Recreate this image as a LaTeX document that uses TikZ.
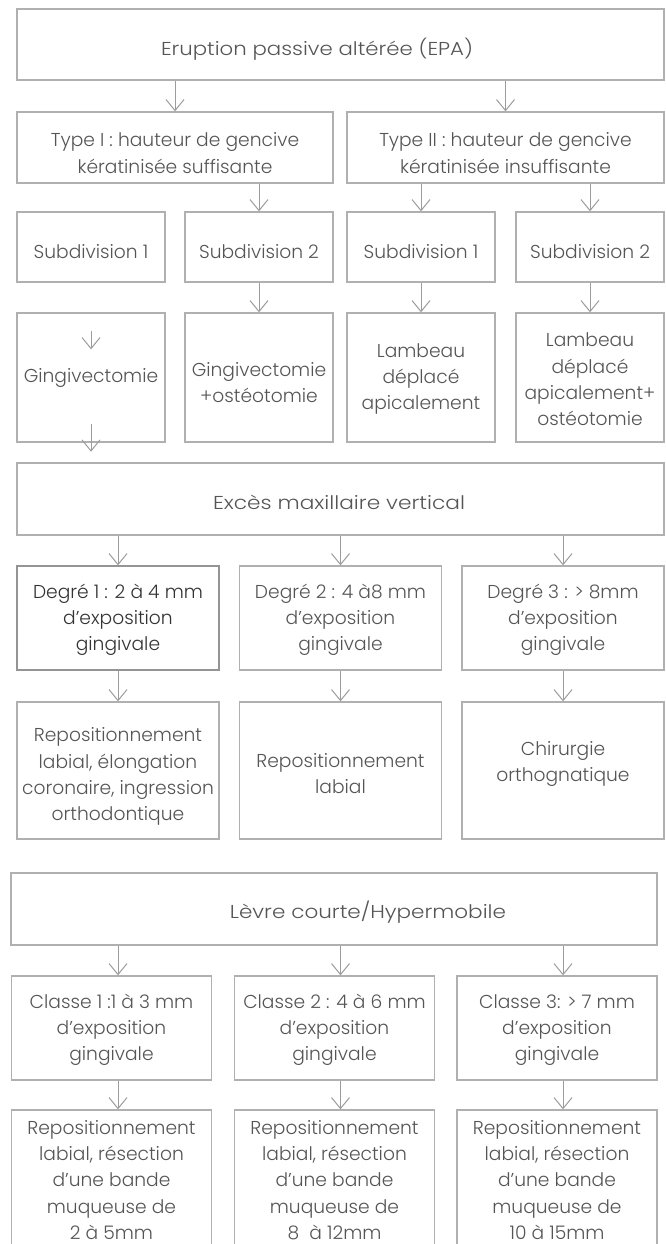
\documentclass[tikz,border=0pt]{standalone}
\usepackage{fontspec}
\IfFontExistsTF{Poppins Light}{\setmainfont{Poppins Light}}{\setmainfont{Poppins}}
\usetikzlibrary{arrows.meta,calc}
\definecolor{bordergray}{HTML}{B0B0B0}
\definecolor{txtgray}{HTML}{555555}
\definecolor{arrgray}{HTML}{9C9C9C}
\tikzset{
  box/.style={draw=bordergray, line width=1pt, inner sep=0pt},
  bx/.style 2 args={minimum width=#1*0.75pt, minimum height=#2*0.75pt},
  txt/.style={align=center, text=txtgray, inner sep=0pt,
    font=\fontsize{14}{19.75}\selectfont},
  arr/.style={draw=arrgray, line width=0.75pt, -{Straight Barb[length=8.25pt,width=13.5pt]}}
}
\begin{document}
\begin{tikzpicture}[x=0.75pt,y=-0.75pt]
\useasboundingbox (0,0) rectangle (666,1244);
\clip (0,0) rectangle (666,1244);
\fill[white] (0,0) rectangle (666,1244);
% ---------- EPA ----------
\node[box,bx={647}{71}] (top) at (340.5,44.5) {};
\node[txt] (topt) at (317,50.7) {\strut\resizebox{234pt}{\height}{Eruption passive altérée (EPA)}};
\node[box,bx={316}{71}] (t1) at (175,147.5) {};
\node[txt] (t1t) at (175,154.9) {\strut Type I : hauteur de gencive\\kératinisée suffisante\strut};
\node[box,bx={317}{71}] (t2) at (505.5,147.5) {};
\node[txt] (t2t) at (505.5,154.9) {\strut Type II : hauteur de gencive\\kératinisée insuffisante\strut};
\node[box,bx={148}{70}] (s1) at (91,247) {};
\node[box,bx={148}{70}] (s2) at (259,247) {};
\node[box,bx={148}{70}] (s3) at (421,247) {};
\node[box,bx={148}{70}] (s4) at (590,247) {};
\node[txt] (s1t) at (91,253.7) {\strut Subdivision 1};
\node[txt] (s2t) at (259,253.7) {\strut Subdivision 2};
\node[txt] (s3t) at (421,253.7) {\strut Subdivision 1};
\node[txt] (s4t) at (590,253.7) {\strut Subdivision 2};
\node[box,bx={148}{129}] (r1) at (91,377.5) {};
\node[box,bx={148}{129}] (r2) at (259,377.5) {};
\node[box,bx={148}{129}] (r3) at (421,377.5) {};
\node[box,bx={148}{129}] (r4) at (590,377.5) {};
\node[txt] (r1t) at (91,377.7) {\strut Gingivectomie};
\node[txt] (r2t) at (259,383.9) {\strut Gingivectomie\\+ostéotomie\strut};
\node[txt] (r3t) at (421,378.1) {\strut Lambeau\\déplacé\\apicalement\strut};
\node[txt] (r4t) at (590,381.2) {\strut Lambeau\\déplacé\\apicalement+\\ostéotomie\strut};
\draw[arr] (top.south -| t1) -- (t1.north);
\draw[arr] (top.south -| t2) -- (t2.north);
\draw[arr] (t1.south -| s2) -- (s2.north);
\draw[arr] (t2.south -| s3) -- (s3.north);
\draw[arr] (t2.south -| s4) -- (s4.north);
\draw[arr] (s2.south) -- (r2.north);
\draw[arr] (s3.south) -- (r3.north);
\draw[arr] (s4.south) -- (r4.north);
\coordinate (g1a) at ($(r1.north)+(0,19)$);
\coordinate (g1b) at ($(r1.north)+(0,37)$);
\coordinate (g2a) at ($(r1.south)+(0,-19)$);
\coordinate (g2b) at ($(r1.south)+(0,9)$);
\draw[arr] (g1a) -- (g1b);
\draw[arr] (g2a) -- (g2b);
% ---------- Exces maxillaire ----------
\node[box,bx={647}{72}] (ex) at (340.5,499) {};
\node[txt] (ext) at (339,504.7) {\strut\resizebox{189pt}{\height}{Excès maxillaire vertical}};
\node[box,bx={202}{104},draw=black!42] (d1) at (118,618) {};
\node[box,bx={202}{104}] (d2) at (340.5,618) {};
\node[box,bx={202}{104}] (d3) at (563,618) {};
\node[txt,text=black!80] (d1t) at (118,619.1) {\strut Degré 1 : 2 à 4 mm\\d’exposition\\gingivale\strut};
\node[txt] (d2t) at (340.5,619.1) {\strut Degré 2 : 4 à8 mm\\d’exposition\\gingivale\strut};
\node[txt] (d3t) at (563,619.1) {\strut Degré 3 : > 8mm\\d’exposition\\gingivale\strut};
\node[box,bx={202}{137}] (e1) at (118,770.5) {};
\node[box,bx={202}{137}] (e2) at (340.5,770.5) {};
\node[box,bx={202}{137}] (e3) at (563,770.5) {};
\node[txt] (e1t) at (118,776.2) {\strut Repositionnement\\labial, élongation\\coronaire, ingression\\orthodontique\strut};
\node[txt] (e2t) at (340.5,774.9) {\strut Repositionnement\\labial\strut};
\node[txt] (e3t) at (563,762.9) {\strut Chirurgie\\orthognatique\strut};
\draw[arr] (ex.south -| d1) -- (d1.north);
\draw[arr] (ex.south -| d2) -- (d2.north);
\draw[arr] (ex.south -| d3) -- (d3.north);
\draw[arr] (d1.south) -- (e1.north);
\draw[arr] (d2.south) -- (e2.north);
\draw[arr] (d3.south) -- (e3.north);
% ---------- Levre courte ----------
\node[box,bx={646}{72}] (lev) at (334,909) {};
\node[txt] (levt) at (368,913.7) {\strut\resizebox{207pt}{\height}{Lèvre courte/Hypermobile}};
\node[box,bx={200}{104}] (c1) at (111.5,1028) {};
\node[box,bx={200}{104}] (c2) at (334.5,1028) {};
\node[box,bx={200}{104}] (c3) at (557,1028) {};
\node[txt] (c1t) at (111.5,1029.1) {\strut Classe 1 :1 à 3 mm\\d’exposition\\gingivale\strut};
\node[txt] (c2t) at (334.5,1029.1) {\strut Classe 2 : 4 à 6 mm\\d’exposition\\gingivale\strut};
\node[txt] (c3t) at (557,1029.1) {\strut Classe 3: > 7 mm\\d’exposition\\gingivale\strut};
\node[box,bx={200}{160}] (b1) at (111.5,1190) {};
\node[box,bx={200}{160}] (b2) at (334.5,1190) {};
\node[box,bx={200}{160}] (b3) at (557,1190) {};
\node[txt] (b1t) at (111.5,1181.4) {\strut Repositionnement\\labial, résection\\d’une bande\\muqueuse de\\2 à 5mm\strut};
\node[txt] (b2t) at (334.5,1181.4) {\strut Repositionnement\\labial, résection\\d’une bande\\muqueuse de\\8~ à 12mm\strut};
\node[txt] (b3t) at (557,1181.4) {\strut Repositionnement\\labial, résection\\d’une bande\\muqueuse de\\10 à 15mm\strut};
\draw[arr] (lev.south -| d1) -- (c1.north -| d1);
\draw[arr] (lev.south -| d2) -- (c2.north -| d2);
\draw[arr] (lev.south -| d3) -- (c3.north -| d3);
\draw[arr] (c1.south -| d1) -- (b1.north -| d1);
\draw[arr] (c2.south -| d2) -- (b2.north -| d2);
\draw[arr] (c3.south -| d3) -- (b3.north -| d3);
\end{tikzpicture}
\end{document}
